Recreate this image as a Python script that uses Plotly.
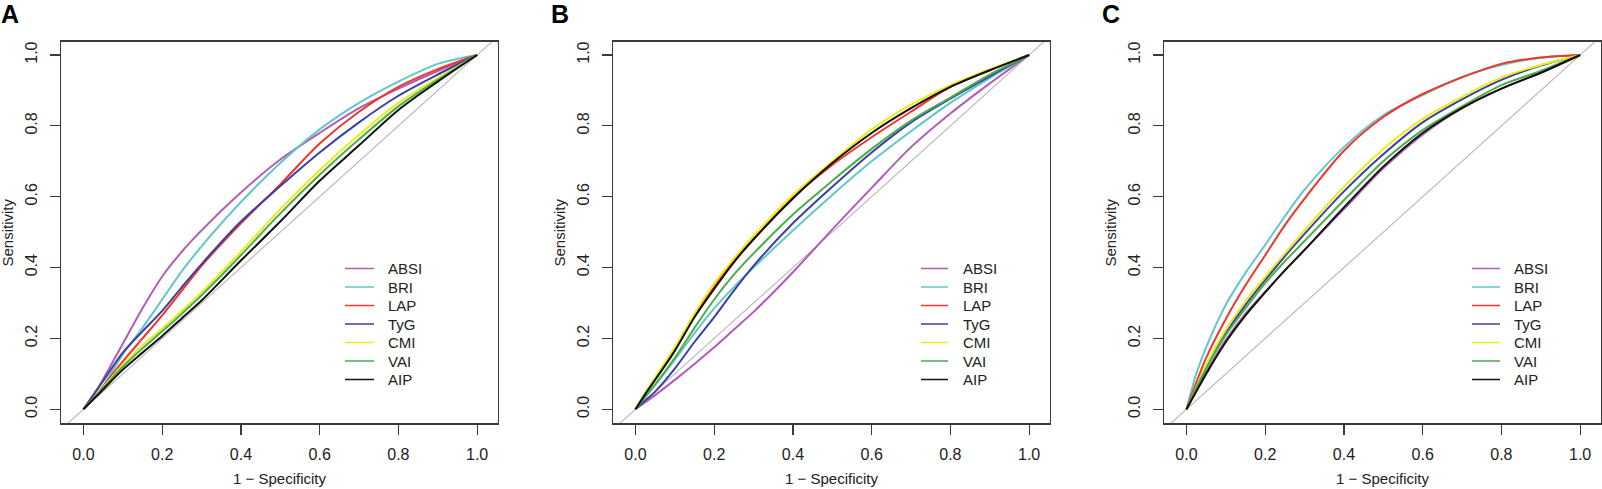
import plotly.graph_objects as go

# ---------------- data ----------------
panels = ["A", "B", "C"]
series_names = ["ABSI", "BRI", "LAP", "TyG", "CMI", "VAI", "AIP"]
series_colors = ["#B25DB5", "#62C6CB", "#F2352B", "#3B40A2", "#ECEC1C", "#4AAE4A", "#111111"]

fpr = [0, 0.025, 0.05, 0.1, 0.15, 0.2, 0.25, 0.3, 0.4, 0.5, 0.6, 0.7, 0.8, 0.9, 1.0]

A_ABSI = [0, 0.04, 0.085, 0.185, 0.285, 0.375, 0.445, 0.505, 0.612, 0.705, 0.78, 0.85, 0.905, 0.955, 1]
A_BRI = [0, 0.03, 0.065, 0.155, 0.23, 0.31, 0.39, 0.46, 0.585, 0.695, 0.79, 0.865, 0.925, 0.975, 1]
A_LAP = [0, 0.03, 0.065, 0.135, 0.20, 0.265, 0.335, 0.405, 0.525, 0.635, 0.75, 0.84, 0.91, 0.96, 1]
A_TyG = [0, 0.04, 0.08, 0.16, 0.22, 0.278, 0.345, 0.41, 0.53, 0.63, 0.725, 0.81, 0.885, 0.945, 1]
A_CMI = [0, 0.03, 0.062, 0.125, 0.18, 0.228, 0.278, 0.33, 0.445, 0.565, 0.675, 0.775, 0.865, 0.935, 1]
A_VAI = [0, 0.03, 0.06, 0.12, 0.172, 0.22, 0.27, 0.322, 0.435, 0.553, 0.662, 0.762, 0.855, 0.93, 1]
A_AIP = [0, 0.028, 0.056, 0.112, 0.16, 0.207, 0.257, 0.307, 0.42, 0.53, 0.645, 0.745, 0.845, 0.925, 1]

B_ABSI = [0, 0.02, 0.04, 0.083, 0.128, 0.175, 0.225, 0.275, 0.387, 0.508, 0.625, 0.74, 0.835, 0.92, 1]
B_BRI = [0, 0.035, 0.068, 0.14, 0.215, 0.285, 0.345, 0.40, 0.505, 0.605, 0.70, 0.785, 0.865, 0.935, 1]
B_LAP = [0, 0.045, 0.085, 0.17, 0.265, 0.345, 0.42, 0.48, 0.598, 0.69, 0.768, 0.84, 0.91, 0.957, 1]
B_TyG = [0, 0.025, 0.05, 0.115, 0.19, 0.26, 0.335, 0.405, 0.525, 0.628, 0.725, 0.81, 0.877, 0.94, 1]
B_CMI = [0, 0.047, 0.09, 0.175, 0.27, 0.355, 0.425, 0.49, 0.605, 0.70, 0.79, 0.86, 0.915, 0.96, 1]
B_VAI = [0, 0.035, 0.07, 0.145, 0.23, 0.31, 0.38, 0.44, 0.55, 0.645, 0.735, 0.815, 0.88, 0.945, 1]
B_AIP = [0, 0.043, 0.083, 0.165, 0.26, 0.34, 0.415, 0.48, 0.595, 0.695, 0.78, 0.85, 0.91, 0.957, 1]

C_ABSI = [0, 0.055, 0.105, 0.196, 0.27, 0.332, 0.392, 0.45, 0.565, 0.68, 0.775, 0.85, 0.905, 0.95, 1]
C_BRI = [0, 0.10, 0.175, 0.295, 0.385, 0.464, 0.545, 0.62, 0.74, 0.83, 0.887, 0.938, 0.972, 0.992, 1]
C_LAP = [0, 0.075, 0.145, 0.255, 0.35, 0.435, 0.52, 0.595, 0.73, 0.825, 0.89, 0.937, 0.975, 0.993, 1]
C_TyG = [0, 0.06, 0.12, 0.215, 0.295, 0.365, 0.432, 0.495, 0.615, 0.72, 0.81, 0.875, 0.93, 0.97, 1]
C_CMI = [0, 0.062, 0.125, 0.225, 0.305, 0.374, 0.44, 0.505, 0.628, 0.735, 0.82, 0.882, 0.937, 0.972, 1]
C_VAI = [0, 0.06, 0.115, 0.21, 0.285, 0.356, 0.418, 0.475, 0.59, 0.70, 0.788, 0.855, 0.915, 0.955, 1]
C_AIP = [0, 0.05, 0.10, 0.19, 0.265, 0.33, 0.392, 0.45, 0.57, 0.685, 0.78, 0.85, 0.905, 0.95, 1]

panel_data = {
    "A": [A_ABSI, A_BRI, A_LAP, A_TyG, A_CMI, A_VAI, A_AIP],
    "B": [B_ABSI, B_BRI, B_LAP, B_TyG, B_CMI, B_VAI, B_AIP],
    "C": [C_ABSI, C_BRI, C_LAP, C_TyG, C_CMI, C_VAI, C_AIP],
}

tick_vals = [0.0, 0.2, 0.4, 0.6, 0.8, 1.0]
diag = [-0.1, 1.1]

# ---------------- layout geometry (pixels) ----------------
W, H = 1602, 489
box_left = [61, 613, 1164]
box_w = 437
box_top, box_bottom = 41.7, 423.3
legend_line_x = [(345, 374), (921, 948), (1472, 1500)]
legend_text_x = [386, 961, 1512]
legend_row0 = 268.5
legend_step = 18.5
letter_x = [10, 560, 1111]

FONT = "Liberation Sans, Arial, Helvetica, sans-serif"
AX_COL = "#3a3a3a"


def px(xp):
    return xp / W


def py(yp):
    return 1 - yp / H


fig = go.Figure()

for i, p in enumerate(panels):
    xa = "x" if i == 0 else f"x{i+1}"
    ya = "y" if i == 0 else f"y{i+1}"
    fig.add_trace(go.Scatter(x=diag, y=diag, mode="lines", xaxis=xa, yaxis=ya,
                             line=dict(color="#BAB6B6", width=1.1), showlegend=False,
                             hoverinfo="skip"))
    for name, col, vals in zip(series_names, series_colors, panel_data[p]):
        fig.add_trace(go.Scatter(x=fpr, y=vals, mode="lines", xaxis=xa, yaxis=ya, name=name,
                                 line=dict(color=col, width=2, shape="spline", smoothing=0.8),
                                 showlegend=False))

layout = dict(width=W, height=H, margin=dict(l=0, r=0, t=0, b=0),
              paper_bgcolor="white", plot_bgcolor="white",
              font=dict(family=FONT, color="#222222"), showlegend=False)

annotations = []
shapes = []
for i, p in enumerate(panels):
    xk = "xaxis" if i == 0 else f"xaxis{i+1}"
    yk = "yaxis" if i == 0 else f"yaxis{i+1}"
    xa = "x" if i == 0 else f"x{i+1}"
    ya = "y" if i == 0 else f"y{i+1}"
    bl = box_left[i]
    layout[xk] = dict(domain=[px(bl), px(bl + box_w)], anchor=ya, range=[-0.057, 1.053],
                      tickvals=tick_vals, tickformat=".1f", ticks="outside", ticklen=10,
                      tickwidth=1.2, tickcolor=AX_COL, showline=True, mirror=True,
                      linecolor=AX_COL, linewidth=1.3, showgrid=False, zeroline=False,
                      tickfont=dict(size=16, family=FONT, color="#222222"),
                      ticklabelstandoff=6, fixedrange=True)
    layout[yk] = dict(domain=[py(box_bottom), py(box_top)], anchor=xa, range=[-0.0395, 1.0376],
                      tickvals=tick_vals, tickformat=".1f", ticks="outside", ticklen=10,
                      tickwidth=1.2, tickcolor=AX_COL, showline=True, mirror=True,
                      linecolor=AX_COL, linewidth=1.3, showgrid=False, zeroline=False,
                      tickangle=-90, tickfont=dict(size=16, family=FONT, color="#222222"),
                      ticklabelstandoff=6, fixedrange=True)
    # axis titles
    annotations.append(dict(text="Sensitivity", x=px(bl - 54), y=py((box_top + box_bottom) / 2),
                            xref="paper", yref="paper", showarrow=False, textangle=-90,
                            xanchor="center", yanchor="middle",
                            font=dict(size=15, family=FONT, color="#222222")))
    annotations.append(dict(text="1 \u2212 Specificity", x=px(bl + box_w / 2), y=py(478),
                            xref="paper", yref="paper", showarrow=False,
                            xanchor="center", yanchor="middle",
                            font=dict(size=15, family=FONT, color="#222222")))
    # panel letter
    annotations.append(dict(text=f"<b>{p}</b>", x=px(letter_x[i]), y=py(14),
                            xref="paper", yref="paper", showarrow=False,
                            xanchor="center", yanchor="middle",
                            font=dict(size=25, family=FONT, color="#000000")))
    # legend
    for k, (name, col) in enumerate(zip(series_names, series_colors)):
        ry = legend_row0 + k * legend_step
        shapes.append(dict(type="line", xref="paper", yref="paper",
                           x0=px(legend_line_x[i][0]), x1=px(legend_line_x[i][1]),
                           y0=py(ry), y1=py(ry), line=dict(color=col, width=1.5)))
        annotations.append(dict(text=name, x=px(legend_text_x[i]), y=py(ry),
                                xref="paper", yref="paper", showarrow=False,
                                xanchor="left", yanchor="middle",
                                font=dict(size=15, family=FONT, color="#222222")))

layout["annotations"] = annotations
layout["shapes"] = shapes
fig.update_layout(**layout)

fig.write_html("out.html",
               config={"displayModeBar": False, "staticPlot": True},
               post_script="document.body.style.margin='0px';"
                           "document.body.style.overflow='hidden';")
